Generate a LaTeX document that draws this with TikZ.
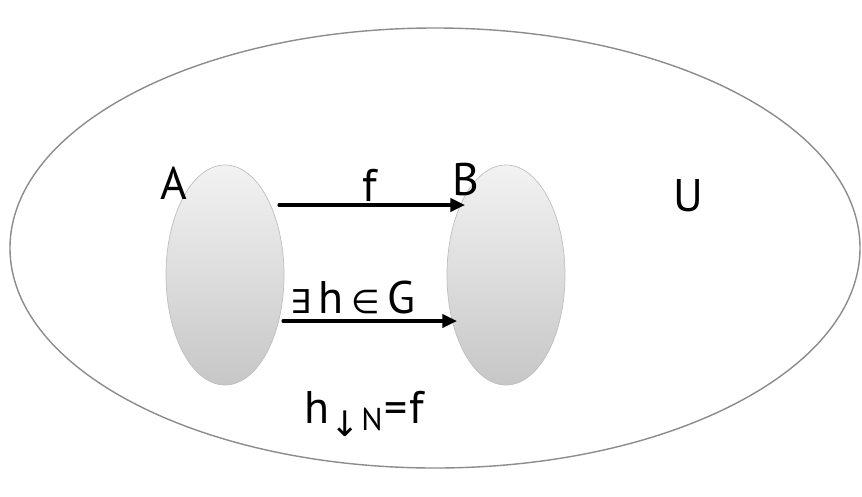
\documentclass[tikz,border=0pt]{standalone}
\usepackage{fontspec}
\setmainfont{PT Sans}
\newfontfamily\symfont{DejaVu Sans}
\usetikzlibrary{arrows.meta,calc,positioning,shapes.geometric}

\begin{document}
\begin{tikzpicture}[
  x=0.03cm, y=-0.03cm,
  font=\fontsize{39}{44}\selectfont,
  line cap=round,
  maparr/.style={-{Triangle[length=0.44cm, width=0.4cm]}, line width=2.6pt, draw=black},
  blob/.style={ellipse, minimum width=3.54cm, minimum height=6.6cm, inner sep=0pt,
    draw=black!25, line width=0.6pt, top color=black!5, bottom color=black!22},
  lbl/.style={inner sep=0pt, text=black},
]
  \useasboundingbox (0,0) rectangle (862,496);
  % Universe
  \node[ellipse, minimum width=25.5cm, minimum height=13.2cm, inner sep=0pt,
    draw=black!45, line width=1.2pt] (U) at (435,248) {};
  \node[lbl] (Ulbl) at (688,196) {U};
  % Sets A and B
  \node[blob] (A) at (225,275) {};
  \node[blob] (B) at (506,275) {};
  \node[lbl] (Albl) at (174,183) {A};
  \node[lbl] (Blbl) at (466,180) {B};
  % Arrow end points
  \coordinate (fS) at (279,205);
  \coordinate (fT) at (465,205);
  \coordinate (hS) at (283,321);
  \coordinate (hT) at (457,321);
  \draw[maparr] (fS) -- (fT);
  \draw[maparr] (hS) -- (hT);
  % Labels
  \node[lbl] (flbl) at (370,185) {f};
  \node[lbl] (hlbl) at (353,298) {{\symfont\fontsize{28}{34}\selectfont ∃}\,h\,{\symfont\fontsize{28}{34}\selectfont ∈}\,G};
  \node[lbl, anchor=base west] (restr) at (304,423)
    {h\hspace{0.02em}\raisebox{-0.3em}{{\symfont\fontsize{30}{36}\selectfont ↓}}\hspace{0.04em}\raisebox{-0.17em}{\fontsize{27}{30}\selectfont N}\hspace{0.05em}=\hspace{0.03em}f};
\end{tikzpicture}
\end{document}
